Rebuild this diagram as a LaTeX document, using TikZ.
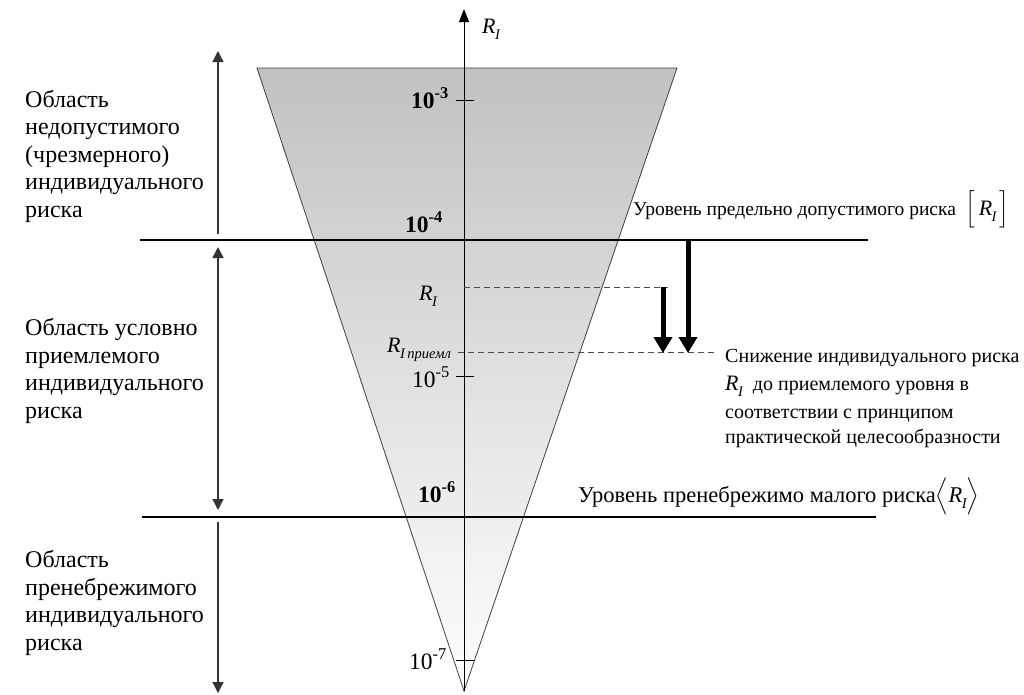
\documentclass[tikz,border=0pt]{standalone}
\usepackage{fontspec}
\setmainfont{Liberation Serif}
\usepackage{graphicx}
\usepackage{amsmath}
\usetikzlibrary{arrows.meta,positioning}
\newcommand{\Rs}[1]{\textit{R}\kern-0.5pt\raisebox{-0.3em}{\scalebox{0.66}{\itshape #1}}}

\begin{document}
\begin{tikzpicture}[x=1pt,y=-1pt,
  region/.style={anchor=base west, align=left, inner sep=0, font=\fontsize{24}{27.5}\selectfont},
  note/.style={anchor=base west, align=left, inner sep=0},
  ticklbl/.style={anchor=base east, inner sep=0, font=\fontsize{23.5}{24}\selectfont},
  risk/.style={anchor=base west, inner sep=0, font=\fontsize{22}{22}\selectfont},
  level/.style={line width=2.6pt},
  span/.style={draw=black!80, line width=1.3pt, >={Triangle[length=11pt,width=11pt]}},
  drop/.style={line width=5pt, -{Triangle[length=16pt,width=18pt]}},
  guide/.style={black!70, dash pattern=on 6pt off 4pt, line width=0.9pt}]
\useasboundingbox (0,0) rectangle (1024,694);

\coordinate (tl) at (257,68);
\coordinate (tr) at (677,68);
\coordinate (apex) at (464,691);
\shade[top color=black!24, bottom color=white] (tl) -- (tr) -- (apex) -- cycle;
\draw[black!75, line width=0.8pt] (tl) -- (tr) -- (apex) -- cycle;

% axis
\coordinate (axtop) at (464,9);
\draw[line width=1pt, -{Triangle[length=13pt,width=10pt]}] (apex) -- (axtop);
\node[risk] (ri) at (482,33) {\Rs{I}};
\foreach \name/\y in {t3/100, t5/376, t7/660} {
  \coordinate (\name) at (464,\y);
  \draw[line width=0.9pt] ([xshift=-8pt]\name) -- ([xshift=10pt]\name);
}
\node[ticklbl, font=\fontsize{23.5}{24}\selectfont\bfseries] (e3) at (449,108) {10\textsuperscript{-3}};
\node[ticklbl, font=\fontsize{23.5}{24}\selectfont\bfseries] (e4) at (443,232) {10\textsuperscript{-4}};
\node[ticklbl] (e5) at (450,387) {10\textsuperscript{-5}};
\node[ticklbl, font=\fontsize{23.5}{24}\selectfont\bfseries] (e6) at (456,502) {10\textsuperscript{-6}};
\node[ticklbl] (e7) at (447,669) {10\textsuperscript{-7}};

% levels
\coordinate (l4w) at (140,240); \coordinate (l4e) at (868,240);
\coordinate (l6w) at (142,517); \coordinate (l6e) at (876,517);
\draw[level] (l4w) -- (l4e);
\draw[level] (l6w) -- (l6e);
\node[note, font=\fontsize{19.5}{20}\selectfont] (limit) at (633,215) {Уровень предельно допустимого риска\ \ $\Big[$\,{\fontsize{22}{22}\selectfont\Rs{I}}\,$\Big]$};
\node[note, font=\fontsize{22.5}{22}\selectfont] (minor) at (578,502) {Уровень пренебрежимо малого риска$\Big\langle$\Rs{I}$\Big\rangle$};

% reduction
\node[risk] (rcur) at (419,300) {\Rs{I}};
\node[risk] (racc) at (387,352) {\Rs{I\,приемл}};
\coordinate (d1w) at (464,287); \coordinate (d1e) at (668,287);
\coordinate (d2w) at (458,352); \coordinate (d2e) at (716,352);
\draw[guide] (d1w) -- (d1e);
\draw[guide] (d2w) -- (d2e);
\coordinate (a1) at (663,287); \coordinate (a1tip) at (663,353);
\coordinate (a2) at (688,240); \coordinate (a2tip) at (688,353);
\draw[drop] (a1) -- (a1tip);
\draw[drop] (a2) -- (a2tip);
\node[note, font=\fontsize{20}{25}\selectfont] (reduce) at (725,443) {Снижение индивидуального риска\\[3pt]
  {\fontsize{22}{22}\selectfont\Rs{I}}\ \ до приемлемого уровня в\\[3pt]
  соответствии с принципом\\
  практической целесообразности};

% regions
\coordinate (s1a) at (218,234); \coordinate (s1b) at (218,51);
\coordinate (s2a) at (218,247); \coordinate (s2b) at (218,510);
\coordinate (s3a) at (218,522); \coordinate (s3b) at (218,693);
\draw[span,->] (s1a) -- (s1b);
\draw[span,<->] (s2a) -- (s2b);
\draw[span,->] (s3a) -- (s3b);
\node[region] (unacc) at (25,217) {Область\\недопустимого\\(чрезмерного)\\индивидуального\\риска};
\node[region] (cond) at (25,418) {Область условно\\приемлемого\\индивидуального\\риска};
\node[region] (negl) at (25,650) {Область\\пренебрежимого\\индивидуального\\риска};
\end{tikzpicture}
\end{document}
